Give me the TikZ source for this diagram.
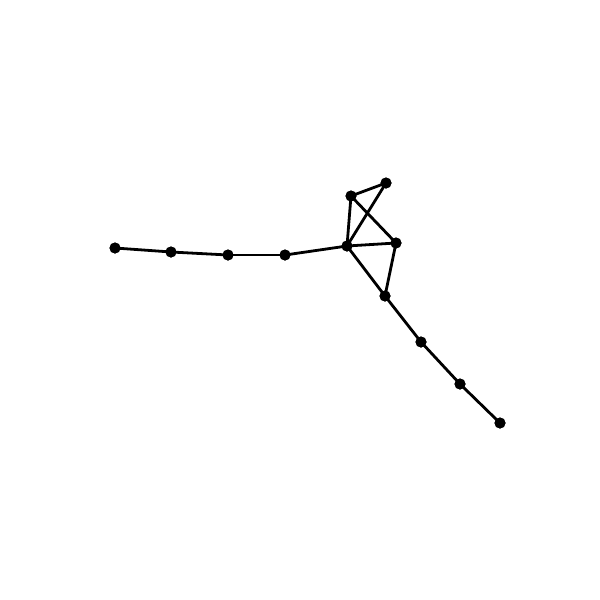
\documentclass[tikz,border=0pt]{standalone}
\begin{document}
\begin{tikzpicture}[x=1pt,y=-1pt,
  vtx/.style={circle,fill=black,inner sep=0pt,minimum size=11pt},
  edge/.style={line width=2.8pt}]
\useasboundingbox (0,0) rectangle (600,600);
\node[vtx] (a) at (115,248) {};
\node[vtx] (b) at (171,252) {};
\node[vtx] (c) at (228,255) {};
\node[vtx] (d) at (285,255) {};
\node[vtx] (e) at (347,246) {};
\node[vtx] (f) at (351,196) {};
\node[vtx] (g) at (386,183) {};
\node[vtx] (h) at (396,243) {};
\node[vtx] (i) at (385,296) {};
\node[vtx] (j) at (421,342) {};
\node[vtx] (k) at (460,384) {};
\node[vtx] (l) at (500,423) {};
\foreach \u/\v in {a/b,b/c,c/d,d/e,e/f,f/g,g/e,f/h,e/h,h/i,e/i,i/j,j/k,k/l}
  \draw[edge] (\u.center) -- (\v.center);
\foreach \n in {a,b,c,d,e,f,g,h,i,j,k,l}
  \fill (\n) circle (5.5pt);
\end{tikzpicture}
\end{document}
